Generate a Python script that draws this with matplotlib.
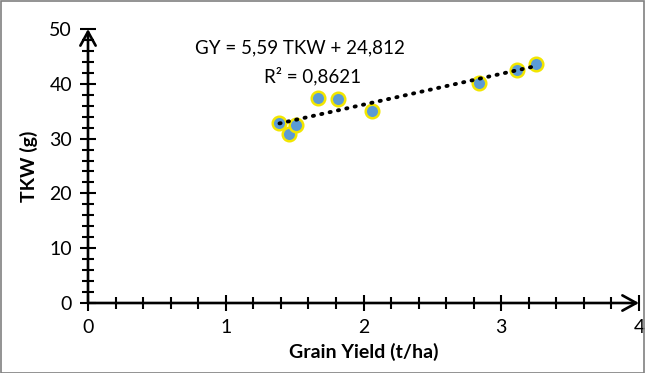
import numpy as np
import matplotlib
matplotlib.use("Agg")
import matplotlib.pyplot as plt
from matplotlib.ticker import MultipleLocator
from matplotlib.patches import Rectangle

plt.rcParams['font.family'] = ['Lato', 'DejaVu Sans']

grain_yield = [1.39, 1.46, 1.51, 1.67, 1.815, 2.06, 2.84, 3.115, 3.25]
tkw = [32.9, 30.8, 32.5, 37.35, 37.2, 35.1, 40.1, 42.5, 43.6]
equation = "GY = 5,59 TKW + 24,812"
r2_text = "R² = 0,8621"
x_ticks = [0, 1, 2, 3, 4]
y_ticks = [0, 10, 20, 30, 40, 50]

fig = plt.figure(figsize=(6.45, 3.73), dpi=100)
ax = fig.add_axes([88/645, 1-303/373, (639-88)/645, (303-29)/373])

# trendline through polyfit
coef = np.polyfit(grain_yield, tkw, 1)
xs = np.array([min(grain_yield), max(grain_yield)])
ax.plot(xs, np.polyval(coef, xs), color='black', linewidth=2.8,
        linestyle=(0, (0.3, 1.9)), dash_capstyle='round', zorder=3)

ax.scatter(grain_yield, tkw, s=95, facecolor='#5B9BD5', edgecolor='#F2E600',
           linewidth=1.8, zorder=2)

ax.set_xlim(0, 4)
ax.set_ylim(0, 50)
for s in ax.spines.values():
    s.set_visible(False)

ax.xaxis.set_minor_locator(MultipleLocator(0.2))
ax.yaxis.set_minor_locator(MultipleLocator(2))
ax.set_xticks(x_ticks)
ax.set_yticks(y_ticks)
ax.tick_params(which='major', direction='inout', length=11, width=1.5,
               labelsize=14, color='black', pad=6)
ax.tick_params(which='minor', direction='inout', length=8, width=1.5, color='black')

# axes lines with arrowheads
arrow = dict(arrowstyle='->,head_length=1.0,head_width=0.55', lw=1.9, color='black',
             shrinkA=0, shrinkB=0)
ax.annotate('', xy=(4, 0), xytext=(0, 0), xycoords='data',
            arrowprops=arrow, annotation_clip=False)
ax.annotate('', xy=(0, 50), xytext=(0, 0), xycoords='data',
            arrowprops=arrow, annotation_clip=False)

ax.text(1.54, 46.5, equation, ha='center', va='center', fontsize=13.5)
ax.text(1.63, 41.4, r2_text, ha='center', va='center', fontsize=13.5)

ax.set_xlabel("Grain Yield (t/ha)", fontsize=14, fontweight='bold', labelpad=5)
ax.set_ylabel("TKW (g)", fontsize=14, fontweight='bold', labelpad=8)

fig.patches.append(Rectangle((0.5/645, 0.5/373), 1-1.5/645, 1-1.5/373,
                             transform=fig.transFigure, fill=False,
                             edgecolor='#808080', linewidth=1.2))

fig.savefig("out.png", dpi=100)
